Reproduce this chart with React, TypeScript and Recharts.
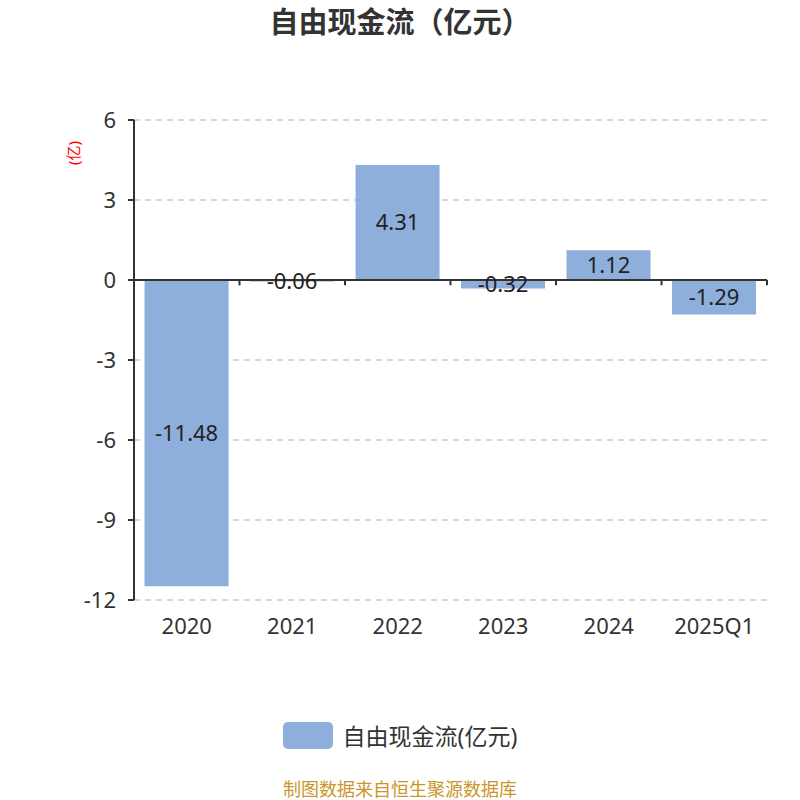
import { Bar, BarChart, CartesianGrid, LabelList, Legend, ReferenceLine, XAxis, YAxis } from "recharts"

// 数据
const categories = ["2020", "2021", "2022", "2023", "2024", "2025Q1"]
const freeCashFlow = [-11.48, -0.06, 4.31, -0.32, 1.12, -1.29]
const yTicks = [-12, -9, -6, -3, 0, 3, 6]
const boundaries = [1, 2, 3, 4, 5, 6]

const SERIES_NAME = "自由现金流(亿元)"
const BAR_COLOR = "#8eaedb"
const FONT = "'Noto Sans', 'Noto Sans CJK SC', sans-serif"

const data = categories.map((name, i) => ({ name, idx: i + 0.5, value: freeCashFlow[i] }))

const renderLegend = () => (
    <div style={{ display: "flex", justifyContent: "center", alignItems: "center", fontFamily: FONT }}>
        <span style={{ width: 50, height: 27, background: BAR_COLOR, borderRadius: 5, marginRight: 10 }} />
        <span style={{ fontSize: 23, color: "#333" }}>{SERIES_NAME}</span>
    </div>
)

export default function App() {
    return (
        <div style={{ position: "relative", width: 800, height: 800, fontFamily: FONT }}>
            <style>{`body{margin:0}`}</style>
            <div style={{ position: "absolute", top: 6, left: 0, width: 800, lineHeight: "32px", textAlign: "center", fontSize: 29, fontWeight: "bold", color: "#333" }}>
                自由现金流（亿元）
            </div>
            <BarChart
                width={800}
                height={800}
                data={data}
                margin={{ top: 120, right: 33, bottom: 160, left: 0 }}
                barCategoryGap="10%"
            >
                <CartesianGrid vertical={false} stroke="#ccc" strokeDasharray="6 5" strokeWidth={1.5} />
                <XAxis
                    dataKey="name"
                    xAxisId="cat"
                    axisLine={false}
                    tickLine={false}
                    height={40}
                    tickMargin={12}
                    tick={{ fontSize: 22, fill: "#333" }}
                    interval={0}
                />
                <XAxis xAxisId="num" type="number" dataKey="idx" domain={[0, 6]} hide />
                <YAxis
                    width={134}
                    domain={[-12, 6]}
                    ticks={yTicks}
                    interval={0}
                    axisLine={{ stroke: "#333", strokeWidth: 2 }}
                    tickLine={{ stroke: "#333", strokeWidth: 2 }}
                    tickSize={6}
                    tickMargin={12}
                    tick={{ fontSize: 22, fill: "#333" }}
                    label={{ value: "(亿)", angle: -90, position: "insideLeft", offset: 74, dy: -195, style: { fontSize: 15, fill: "red" } }}
                />
                <Bar dataKey="value" xAxisId="cat" name={SERIES_NAME} fill={BAR_COLOR} isAnimationActive={false}>
                    <LabelList dataKey="value" position="center" style={{ fontSize: 22, fill: "#222" }} />
                </Bar>
                <ReferenceLine y={0} xAxisId="cat" stroke="#333" strokeWidth={2} />
                {boundaries.map((b) => (
                    <ReferenceLine
                        key={b}
                        xAxisId="num"
                        segment={[{ x: b, y: 0 }, { x: b, y: -0.2 }]}
                        stroke="#333"
                        strokeWidth={2}
                    />
                ))}
                <Legend
                    verticalAlign="middle"
                    align="center"
                    layout="horizontal"
                    content={renderLegend}
                    wrapperStyle={{ top: 718, left: 0, width: 800 }}
                />
            </BarChart>
            <div style={{ position: "absolute", top: 779, left: 0, width: 800, lineHeight: "20px", textAlign: "center", fontSize: 18, color: "#c9962b" }}>
                制图数据来自恒生聚源数据库
            </div>
        </div>
    )
}
